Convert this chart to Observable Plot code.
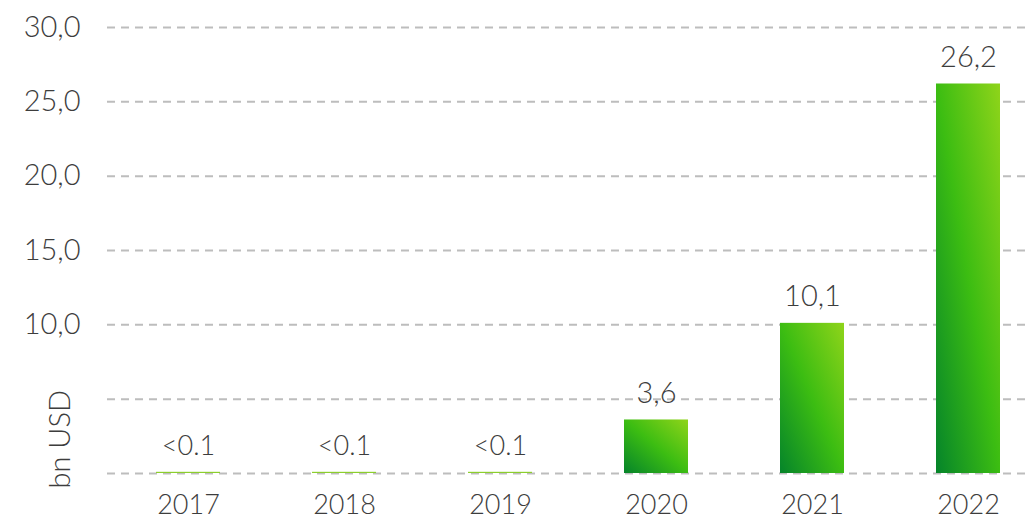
<!DOCTYPE html>
<html>
<head>
<meta charset="utf-8">
<script src="https://cdn.jsdelivr.net/npm/d3@7"></script>
<script src="https://cdn.jsdelivr.net/npm/@observablehq/plot@0.6"></script>
<style>
  html, body { margin: 0; padding: 0; background: #fff; }
  #chart { width: 1028px; height: 521px; }
  svg { font-family: Lato, "Open Sans", sans-serif; font-weight: 300; }
</style>
</head>
<body>
<div id="chart"></div>
<script>
const years = ["2017", "2018", "2019", "2020", "2021", "2022"];
const values = [0.08, 0.08, 0.08, 3.6, 10.1, 26.2];
const valueLabels = ["<0.1", "<0.1", "<0.1", "3,6", "10,1", "26,2"];
const yTicks = [0, 5, 10, 15, 20, 25, 30];
const yTickLabels = ["", "", "10,0", "15,0", "20,0", "25,0", "30,0"];
const yAxisTitle = "bn USD";

const data = years.map((y, i) => ({year: y, value: values[i], label: valueLabels[i]}));

const defs = () => {
  const ns = "http://www.w3.org/2000/svg";
  const d = document.createElementNS(ns, "defs");
  const g = document.createElementNS(ns, "linearGradient");
  g.setAttribute("id", "barGrad");
  g.setAttribute("x1", "0"); g.setAttribute("y1", "1");
  g.setAttribute("x2", "1"); g.setAttribute("y2", "0");
  [["0%", "#05842a"], ["50%", "#3cbd12"], ["100%", "#8fd41a"]].forEach(([o, c]) => {
    const s = document.createElementNS(ns, "stop");
    s.setAttribute("offset", o); s.setAttribute("stop-color", c);
    g.appendChild(s);
  });
  d.appendChild(g);
  return d;
};

const chart = Plot.plot({
  width: 1028,
  height: 521,
  marginLeft: 107,
  marginRight: 0,
  marginTop: 27,
  marginBottom: 48,
  style: {fontFamily: "Lato, 'Open Sans', sans-serif", fontWeight: 300, background: "#fff"},
  x: {domain: years, paddingInner: 0.59, paddingOuter: 0.235, align: 0.64, label: null},
  y: {domain: [0, 30], label: null},
  marks: [
    defs,
    Plot.ruleY(yTicks, {stroke: "#bdbdbd", strokeWidth: 2, strokeDasharray: "8,6"}),
    Plot.barY(data, {x: "year", y: "value", fill: (d) => d.value < 0.1 ? "#8ccf2c" : "url(#barGrad)"}),
    Plot.text(data, {x: "year", y: "value", text: "label", lineAnchor: "bottom", dy: -17,
      fontSize: (d) => d.label.startsWith("<") ? 27 : 29, fill: "#3d3d3d", fontWeight: 300}),
    Plot.axisX({tickSize: 0, tickPadding: 21, fontSize: 27, color: "#3d3d3d", label: null}),
    Plot.axisY(yTicks, {tickSize: 0, tickPadding: 27, fontSize: 29, color: "#3d3d3d", label: null,
      tickFormat: (d) => yTickLabels[yTicks.indexOf(d)]}),
    Plot.text([yAxisTitle], {frameAnchor: "bottom-left", rotate: -90, textAnchor: "start", dx: -38, dy: 15, fontSize: 29, fill: "#3d3d3d", fontWeight: 300})
  ]
});
document.getElementById("chart").appendChild(chart);
</script>
</body>
</html>
